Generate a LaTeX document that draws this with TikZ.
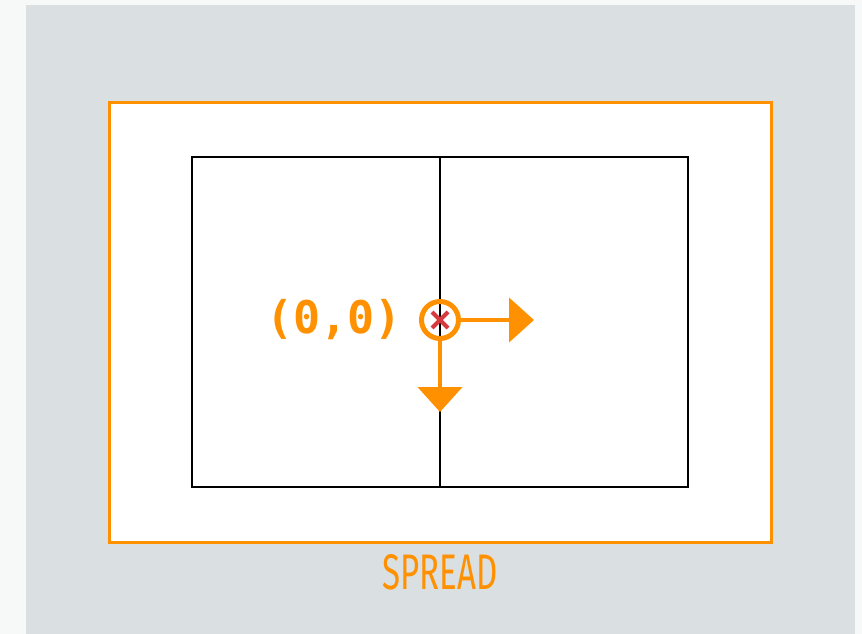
\documentclass[tikz,border=0pt]{standalone}
\usepackage{fontspec}
\usetikzlibrary{arrows.meta}
\newfontfamily\monofont{DejaVu Sans Mono}
\newfontfamily\labelfont{Fira Sans}
\definecolor{pagebg}{HTML}{F7F9F9}
\definecolor{panel}{HTML}{DADFE1}
\definecolor{accent}{HTML}{FF9100}
\definecolor{xred}{HTML}{D63A3F}
\tikzset{
  pagebox/.style={draw=black, line width=2.4pt, fill=white, minimum width=248pt, minimum height=330pt, inner sep=0pt},
  spreadbox/.style={draw=accent, line width=3pt, fill=white, minimum width=662pt, minimum height=440pt, inner sep=0pt},
  axis/.style={draw=accent, line width=4.5pt, -{Triangle[length=25pt,width=44pt]}},
}
\begin{document}
\begin{tikzpicture}[x=1pt,y=-1pt]
\useasboundingbox (0,0) rectangle (862,634);
\fill[pagebg] (0,0) rectangle (862,634);
\fill[panel] (26,5) rectangle (855,634);
\node[spreadbox] (spread) at (440,322) {};
\node[pagebox] (left) at (316,322) {};
\node[pagebox] (right) at (564,322) {};
\node[circle, draw=accent, line width=5pt, minimum size=37pt, inner sep=0pt] (o) at (440,320) {};
\draw[xred, line width=4pt] (o.center) ++(-8,-8) -- ++(16,16);
\draw[xred, line width=4pt] (o.center) ++(-8,8) -- ++(16,-16);
\coordinate (xtip) at (534,320);
\coordinate (ytip) at (440,412);
\draw[axis] (o.east) -- (xtip);
\draw[axis] (o.south) -- (ytip);
\node[anchor=east, text=accent, font=\monofont\bfseries\fontsize{45}{45}\selectfont, inner sep=0pt] (origin) at (402,320) {(0,0)};
\node[text=accent, inner sep=0pt] (label) at (440,572) {\resizebox{115pt}{35pt}{\labelfont SPREAD}};
\end{tikzpicture}
\end{document}
